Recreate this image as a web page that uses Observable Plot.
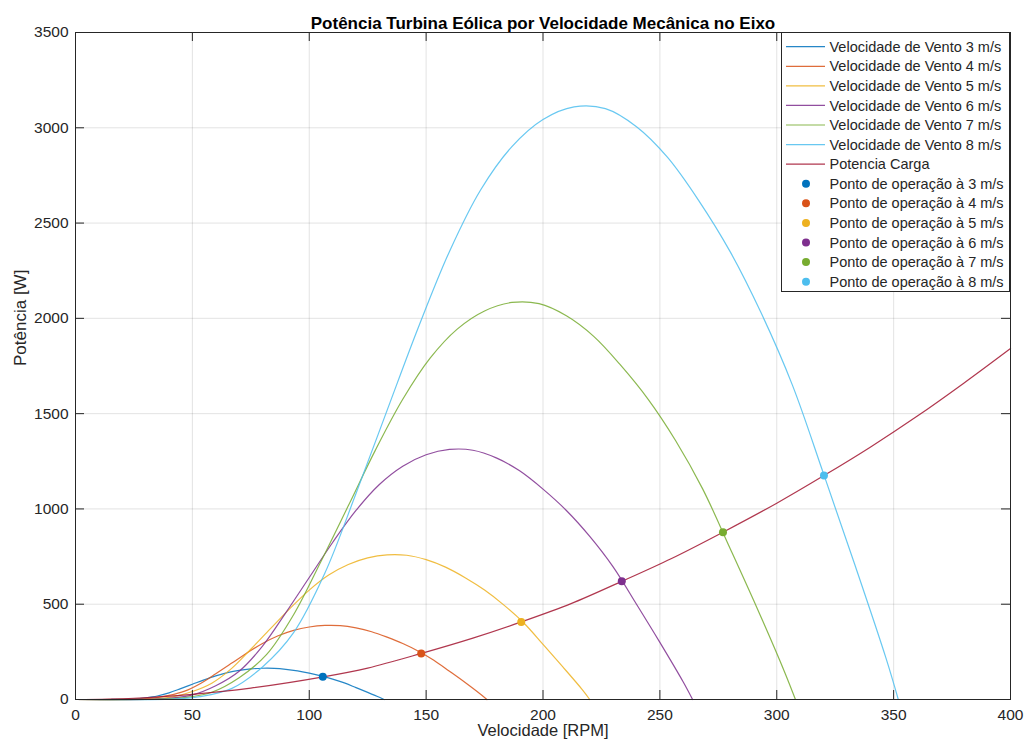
<!DOCTYPE html>
<html><head><meta charset="utf-8">
<script src="https://cdn.jsdelivr.net/npm/d3@7"></script>
<script src="https://cdn.jsdelivr.net/npm/@observablehq/plot@0.6"></script>
<style>body{margin:0;background:#fff} svg{display:block}</style>
</head><body><div id="chart"></div>
<script>
// ---- data ----
const title = "Potência Turbina Eólica por Velocidade Mecânica no Eixo";
const xLabel = "Velocidade [RPM]";
const yLabel = "Potência [W]";
const xTicks = [0, 50, 100, 150, 200, 250, 300, 350, 400];
const yTicks = [0, 500, 1000, 1500, 2000, 2500, 3000, 3500];

const windSpeeds = [3, 4, 5, 6, 7, 8];
const windColors = ["#0072BD", "#D95319", "#EDB120", "#7E2F8E", "#77AC30", "#4DBEEE"];
const loadColor = "#A2142F";
const windLabels = windSpeeds.map(v => `Velocidade de Vento ${v} m/s`);
const loadLabel = "Potencia Carga";
const opLabels = windSpeeds.map(v => `Ponto de operação à ${v} m/s`);

const rpm3 = [0,15,20,25,30,35,40,45,50,55,60,65,70,75,80,85,90,95,100,105,110,115,120,125,130,132];
const pot3 = [0,0.1,0.8,3,9,18.5,35,57,80,103,124,141,153,160.5,164,163.5,158.5,150,138,124,107,87,62.5,37.5,11.5,0];

const rpm4 = [0,20,26.7,33.3,40,46.7,53.3,60,66.7,73.3,80,86.7,93.3,100,106.7,113.3,120,126.7,133.3,140,146.7,153.3,160,166.7,173.3,176];
const pot4 = [0,0.2,1.9,7.1,21.3,43.9,83.0,135.1,189.6,244.2,293.9,334.2,362.7,380.4,388.7,387.6,375.7,355.6,327.1,293.9,253.6,206.2,148.1,88.9,27.3,0];

const rpm5 = [0,25,33.3,41.7,50,58.3,66.7,75,83.3,91.7,100,108.3,116.7,125,133.3,141.7,150,158.3,166.7,175,183.3,191.7,200,208.3,216.7,220];
const pot5 = [0,0.5,3.7,13.9,41.7,85.6,162.0,263.9,370.4,476.9,574.1,652.8,708.3,743.1,759.3,756.9,733.8,694.4,638.9,574.1,495.4,402.8,289.4,173.6,53.2,0];

const rpm6 = [0,30,40,50,60,70,80,90,100,110,120,130,140,150,160,170,180,190,200,210,220,230,240,250,260,264];
const pot6 = [0,0.8,6.4,24,72,148,280,456,640,824,992,1128,1224,1284,1312,1308,1268,1200,1104,992,856,696,500,300,92,0];

const rpm7 = [0,35,46.7,58.3,70,81.7,93.3,105,116.7,128.3,140,151.7,163.3,175,186.7,198.3,210,221.7,233.3,245,256.7,268.3,280,291.7,303.3,308];
const pot7 = [0,1.3,10.2,38.1,114.3,235.0,444.6,724.1,1016.3,1308.5,1575.3,1791.2,1943.7,2038.9,2083.4,2077.0,2013.5,1905.6,1753.1,1575.3,1359.3,1105.2,794.0,476.4,146.1,0];

const rpm8 = [0,40,53.3,66.7,80,93.3,106.7,120,133.3,146.7,160,173.3,186.7,200,213.3,226.7,240,253.3,266.7,280,293.3,306.7,320,333.3,346.7,352];
const pot8 = [0,1.9,15.2,56.9,170.7,350.8,663.7,1080.9,1517.0,1953.2,2351.4,2673.8,2901.3,3043.6,3109.9,3100.5,3005.6,2844.5,2616.9,2351.4,2029.0,1649.8,1185.2,711.1,218.1,0];

const loadRpm = [0,25,50,75,106,125,148,170,190.7,212,233.7,255,277,300,320.2,340,360,380,400];
const loadPot = [0,6.5,27,60,119,165,242,322,407,503,620,740,878,1030,1175,1324,1486,1660,1842];

const opRpm = [105.8, 147.9, 190.7, 233.7, 277, 320.2];
const opPot = [119, 242, 407, 620, 878, 1175];

// ---- build tables ----
const windRpm = [rpm3, rpm4, rpm5, rpm6, rpm7, rpm8];
const windPot = [pot3, pot4, pot5, pot6, pot7, pot8];
const windSeries = windSpeeds.map((v, k) => windRpm[k].map((r, i) => ({rpm: r, pot: windPot[k][i]})));
const loadSeries = loadRpm.map((r, i) => ({rpm: r, pot: loadPot[i]}));
const opPoints = opRpm.map((r, i) => ({rpm: r, pot: opPot[i], color: windColors[i]}));

const W = 1028, H = 749;
const mL = 75, mR = 18, mT = 32, mB = 50;
const fw = W - mL - mR, fh = H - mT - mB;
const tickLen = 9;
const ink = "#262626";
const font = "'Liberation Sans', Arial, Helvetica, sans-serif";

const marks = [
  Plot.gridX(xTicks, {stroke: ink, strokeOpacity: 0.13}),
  Plot.gridY(yTicks, {stroke: ink, strokeOpacity: 0.13}),
  ...windSeries.map((s, k) => Plot.line(s, {x: "rpm", y: "pot", stroke: windColors[k], strokeWidth: 1.2, strokeOpacity: 0.85, curve: "catmull-rom"})),
  Plot.line(loadSeries, {x: "rpm", y: "pot", stroke: loadColor, strokeWidth: 1.2, strokeOpacity: 0.85, curve: "catmull-rom"}),
  ...opPoints.map(p => Plot.dot([p], {x: "rpm", y: "pot", r: 4, fill: p.color, stroke: "none"})),
  Plot.frame({stroke: ink, strokeWidth: 1}),
  Plot.tickX(xTicks, {x: d => d, insetTop: fh - tickLen, stroke: ink}),
  Plot.tickX(xTicks, {x: d => d, insetBottom: fh - tickLen, stroke: ink}),
  Plot.tickY(yTicks, {y: d => d, insetRight: fw - tickLen, stroke: ink}),
  Plot.tickY(yTicks, {y: d => d, insetLeft: fw - tickLen, stroke: ink}),
  Plot.axisX({ticks: xTicks, tickSize: 0, tickPadding: 9, fontSize: 15.5, label: null, fill: ink, tickFormat: d => String(d)}),
  Plot.axisY({ticks: yTicks, tickSize: 0, tickPadding: 7, fontSize: 15.5, label: null, fill: ink, tickFormat: d => String(d)}),
  Plot.text([title], {frameAnchor: "top", dy: -16, fontSize: 17, fontWeight: "bold", fill: "#000"}),
  Plot.text([xLabel], {frameAnchor: "bottom", dy: 36, fontSize: 16.5, fill: ink}),
  Plot.text([yLabel], {frameAnchor: "left", dx: -55, rotate: -90, fontSize: 17, fill: ink})
];

const chart = Plot.plot({
  width: W, height: H,
  marginLeft: mL, marginRight: mR, marginTop: mT, marginBottom: mB,
  x: {domain: [0, 400]},
  y: {domain: [0, 3500]},
  style: {fontFamily: font, background: "#fff", color: ink, overflow: "visible"},
  marks
});

// ---- legend ----
const svg = d3.select(chart);
const lg = svg.append("g").attr("font-family", font).attr("font-size", 14.5).attr("text-anchor", "start");
const lx0 = 781.5, ly0 = 32.5, lw = 228, lh = 259;
lg.append("rect").attr("x", lx0).attr("y", ly0).attr("width", lw).attr("height", lh)
  .attr("fill", "#fff").attr("stroke", ink).attr("stroke-width", 1);
const entries = [
  ...windLabels.map((t, i) => ({t, type: "line", c: windColors[i]})),
  {t: loadLabel, type: "line", c: loadColor},
  ...opLabels.map((t, i) => ({t, type: "dot", c: windColors[i]}))
];
const rowY0 = 46.7, rowStep = 19.58;
entries.forEach((e, i) => {
  const y = rowY0 + i * rowStep;
  if (e.type === "line") {
    lg.append("line").attr("x1", 786).attr("x2", 825).attr("y1", y).attr("y2", y)
      .attr("stroke", e.c).attr("stroke-width", 1.2).attr("stroke-opacity", 0.85);
  } else {
    lg.append("circle").attr("cx", 806).attr("cy", y).attr("r", 4).attr("fill", e.c);
  }
  lg.append("text").attr("x", 829.5).attr("y", y).attr("dy", "0.35em")
    .attr("text-anchor", "start").attr("fill", ink).text(e.t);
});

document.getElementById("chart").appendChild(chart);
</script>
</body></html>
